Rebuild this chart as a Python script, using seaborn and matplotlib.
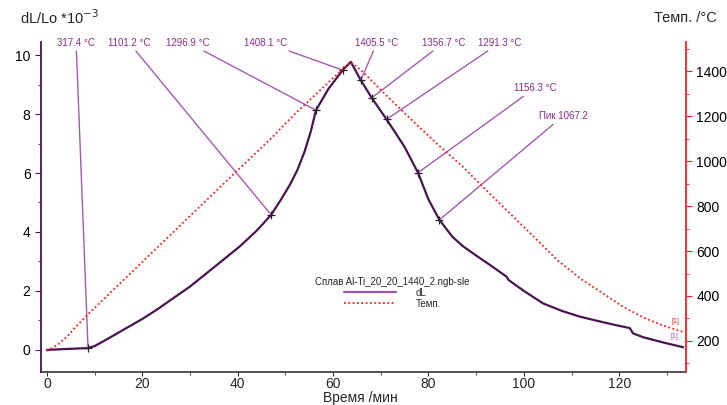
import numpy as np
import pandas as pd
import seaborn as sns
import matplotlib.pyplot as plt
from matplotlib.ticker import MultipleLocator

# dilatometry curve dL/Lo (*10^-3) vs time
time_dl = [0, 4, 8.5, 10, 13, 16, 20, 23, 26, 30, 35, 40.5, 44, 47, 49, 51, 52.5, 54, 55.3,
           56.4, 59, 62, 63.7, 65.8, 68.1, 71.2, 73, 75, 77.8, 80, 82.3, 85, 87.2, 90,
           92.9, 96.4, 96.8, 100, 104, 108, 111.7, 115, 119, 122.2, 122.9, 125, 129, 133.4]
dl = [0, 0.03, 0.06, 0.13, 0.4, 0.68, 1.05, 1.36, 1.7, 2.15, 2.8, 3.52, 4.05, 4.58, 5.08, 5.62, 6.1, 6.72, 7.4,
      8.13, 8.85, 9.49, 9.77, 9.15, 8.55, 7.82, 7.38, 6.88, 6.01, 5.1, 4.41, 3.84, 3.52, 3.2,
      2.88, 2.48, 2.37, 2.0, 1.58, 1.32, 1.13, 1.0, 0.85, 0.74, 0.56, 0.43, 0.26, 0.09]

# temperature program
time_t = [0, 2, 4, 6, 8.5, 12, 16, 20, 24, 30, 36, 40, 44, 47, 52, 56.4, 60, 62, 63.7,
          65.8, 68.1, 71.2, 77.8, 82.3, 87.2, 90, 95, 101.3, 107, 112, 116, 120.8, 125, 129, 133.3]
temp = [155, 180, 215, 262, 317, 388, 470, 552, 633, 756, 878, 960, 1040, 1101, 1210, 1297, 1370, 1408, 1440,
        1405, 1357, 1291, 1156, 1067, 975, 915, 810, 680, 560, 475, 420, 352, 305, 270, 241]

# marked points
mark_t = [8.6, 47, 56.4, 62, 65.8, 68.1, 71.2, 77.8, 82.3]
mark_dl = [0.06, 4.58, 8.13, 9.49, 9.15, 8.55, 7.82, 6.01, 4.41]
mark_text = ["317.4 °C", "1101.2 °C", "1296.9 °C", "1408.1 °C", "1405.5 °C",
             "1356.7 °C", "1291.3 °C", "1156.3 °C", "Пик 1067.2"]
# where the label texts sit (data coords)
label_xy = [(6.1, 10.42), (17.2, 10.42), (29.6, 10.42), (45.9, 10.42), (69.2, 10.42),
            (83.2, 10.42), (95.0, 10.42), (102.3, 8.88), (108.2, 7.93)]

dl_df = pd.DataFrame({"t": time_dl, "dL": dl})
temp_df = pd.DataFrame({"t": time_t, "T": temp})

purple = "#4a1452"
ann_purple = "#a35ab3"
txt_purple = "#8a2a8e"
red = "#ff1a1a"

sns.set_style("white")
plt.rcParams["font.family"] = ["Liberation Sans", "DejaVu Sans"]

fig = plt.figure(figsize=(7.27, 4.05), dpi=100)
ax = fig.add_axes([0.0564, 0.0815, 0.8872, 0.8145])
ax2 = ax.twinx()

sns.lineplot(data=dl_df, x="t", y="dL", ax=ax, color=purple, lw=1.6, label="dL", sort=False)
sns.lineplot(data=temp_df, x="t", y="T", ax=ax2, color=red, lw=1.3,
             linestyle=(0, (1, 1.4)), label="Темп.", sort=False)
ax.plot(mark_t, mark_dl, "+", color="#222222", ms=6, mew=0.9, zorder=5)

for txt, (tx, ty), mx, my in zip(mark_text, label_xy, mark_t, mark_dl):
    ax.annotate(txt, xy=(mx, my), xytext=(tx, ty), ha="center", va="center",
                fontsize=7, color=txt_purple, annotation_clip=False,
                arrowprops=dict(arrowstyle="-", color=ann_purple, lw=1.0,
                                shrinkA=0, shrinkB=0))

ax.text(131.8, 0.95, "[1]", fontsize=5, color=red, ha="center", va="center")
ax.text(131.6, 0.44, "[1]", fontsize=5, color="#a050c0", ha="center", va="center")

ax.set_xlim(-1.26, 134.0)
ax.set_ylim(-0.75, 10.44)
ax2.set_ylim(62, 1529)

ax.xaxis.set_major_locator(MultipleLocator(20))
ax.xaxis.set_minor_locator(MultipleLocator(10))
ax.yaxis.set_major_locator(MultipleLocator(2))
ax.yaxis.set_minor_locator(MultipleLocator(1))
ax2.yaxis.set_major_locator(MultipleLocator(200))
ax2.yaxis.set_minor_locator(MultipleLocator(100))

for a in (ax, ax2):
    a.spines["top"].set_visible(False)
ax.spines["right"].set_visible(False)
ax2.spines["left"].set_visible(False)
ax2.spines["bottom"].set_visible(False)
ax.spines["left"].set_color(purple)
ax.spines["left"].set_linewidth(1.3)
ax.spines["bottom"].set_color("#333333")
ax.spines["bottom"].set_linewidth(1.2)
ax2.spines["right"].set_color(red)
ax2.spines["right"].set_linewidth(1.3)

ax.tick_params(axis="y", which="both", direction="out", color=purple, labelcolor="black",
               labelsize=10, left=True)
ax.tick_params(axis="y", which="major", length=4)
ax.tick_params(axis="y", which="minor", length=2)
ax.tick_params(axis="x", which="both", direction="out", color="#333333", labelsize=10, bottom=True)
ax.tick_params(axis="x", which="major", length=3, pad=0.5)
ax.tick_params(axis="x", which="minor", length=2)
ax2.tick_params(axis="y", which="both", direction="out", color=red, labelcolor="black",
                labelsize=10, right=True)
ax2.tick_params(axis="y", which="major", length=4)
ax2.tick_params(axis="y", which="minor", length=2)

ax.set_xlabel("")
ax.set_ylabel("")
ax2.set_ylabel("")

h1, l1 = ax.get_legend_handles_labels()
h2, l2 = ax2.get_legend_handles_labels()
if ax2.get_legend():
    ax2.get_legend().remove()
leg = ax.legend(h1 + h2, l1 + l2, title="Сплав Al-Ti_20_20_1440_2.ngb-sle", loc="center",
                bbox_to_anchor=(0.545, 0.24), frameon=False, fontsize=7, title_fontsize=7,
                handlelength=5.3, handletextpad=2.0, labelspacing=0.1, borderpad=0.2)
leg.legend_handles[0].set_color("#9a55aa")

fig.text(20 / 727, 1 - 18 / 405, "dL/Lo *10$^{-3}$", fontsize=10.5, ha="left", va="center")
fig.text(717 / 727, 1 - 18 / 405, "Темп. /°C", fontsize=10.5, ha="right", va="center")
fig.text(360 / 727, 1 - 398 / 405, "Время /мин", fontsize=10, ha="center", va="center")

fig.savefig("out.png", dpi=100)
